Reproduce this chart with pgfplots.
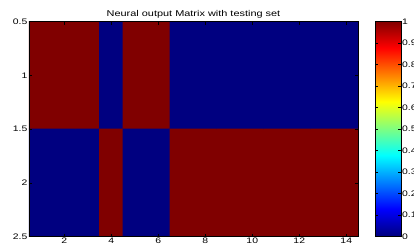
\documentclass[border=0pt]{standalone}
\usepackage{fontspec}
\setmainfont{Liberation Sans}[FakeStretch=1.3]
\usepackage{pgfplots}
\pgfplotsset{compat=1.18}
\begin{document}
\begin{tikzpicture}
\fontsize{8bp}{9.6bp}\selectfont
\begin{axis}[
  scale only axis,
  width=329bp, height=215bp,
  at={(164.5bp,107.5bp)}, anchor=center,
  xmin=0.5, xmax=14.5, ymin=0.5, ymax=2.5,
  y dir=reverse,
  xtick={2,4,...,14},
  ytick={0.5,1,1.5,2,2.5},
  yticklabels={0.5,1,1.5,2,2.5},
  tick align=inside,
  major tick length=3bp,
  xtick pos=both, ytick pos=both,
  xticklabel pos=bottom, yticklabel pos=left,
  /pgf/number format/assume math mode=true,
  tick label style={font=\fontsize{8bp}{9.6bp}\selectfont, inner sep=1.5bp},
  title={Neural output Matrix with testing set},
  title style={font=\fontsize{8.4bp}{10bp}\selectfont, inner sep=1bp, yshift=-4bp},
  colormap/jet,
  point meta min=0, point meta max=1,
  axis on top,
  axis line style={black, line width=0.6bp},
  every tick/.style={black, line width=0.5bp},
]
\addplot[matrix plot*, shader=faceted, faceted color=mapped color, line width=0.6bp, mesh/cols=14, point meta=explicit] table[meta=c] {
x y c
1 1 1
2 1 1
3 1 1
4 1 0
5 1 1
6 1 1
7 1 0
8 1 0
9 1 0
10 1 0
11 1 0
12 1 0
13 1 0
14 1 0
1 2 0
2 2 0
3 2 0
4 2 1
5 2 0
6 2 0
7 2 1
8 2 1
9 2 1
10 2 1
11 2 1
12 2 1
13 2 1
14 2 1
};
\end{axis}
% colorbar
\begin{axis}[
  scale only axis,
  width=26bp, height=215bp,
  at={(359bp,107.5bp)}, anchor=center,
  xmin=0, xmax=1, ymin=0, ymax=1,
  xtick=\empty,
  ytick={0,0.1,...,1},
  yticklabels={0,0.1,0.2,0.3,0.4,0.5,0.6,0.7,0.8,0.9,1},
  tick align=inside,
  major tick length=3bp,
  ytick pos=both, yticklabel pos=right,
  /pgf/number format/assume math mode=true,
  tick label style={font=\fontsize{8bp}{9.6bp}\selectfont, inner sep=1bp},
  colormap/jet,
  point meta min=0, point meta max=1,
  axis on top,
  axis line style={black, line width=0.6bp},
  every tick/.style={black, line width=0.5bp},
]
\addplot[surf, shader=interp, mesh/rows=2, point meta=explicit] table[meta=c] {
x y c
0 0 0
1 0 0
0 1 1
1 1 1
};
\end{axis}
\pgfresetboundingbox
\path[use as bounding box] (-29bp,-13.5bp) rectangle (385bp,236.5bp);
\end{tikzpicture}
\end{document}
